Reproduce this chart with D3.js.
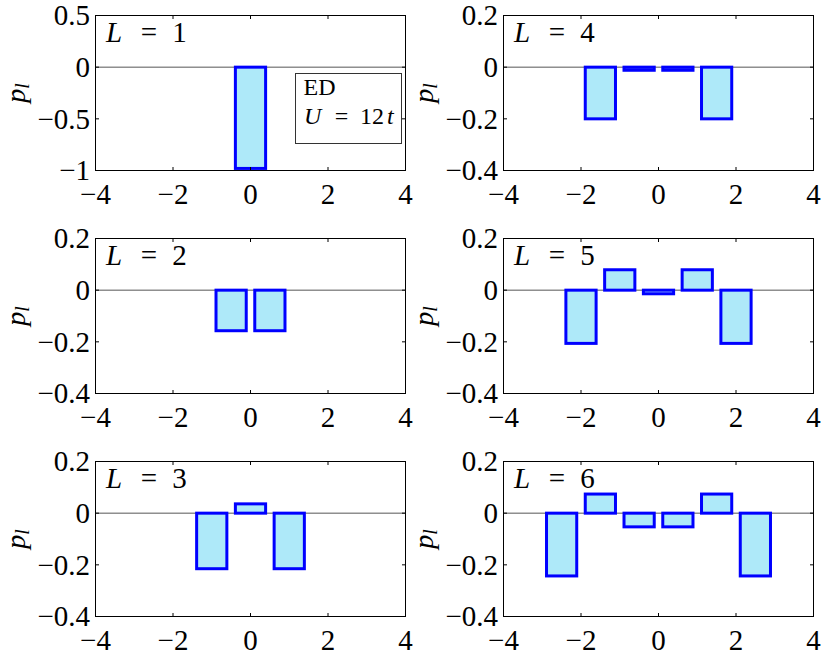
<!DOCTYPE html>
<html><head><meta charset="utf-8">
<script src="https://cdn.jsdelivr.net/npm/d3@7"></script>
<style>body{margin:0;background:#fff} svg{display:block} text{font-family:"Liberation Serif","DejaVu Serif","Times New Roman",serif;}</style>
</head><body>
<svg id="c" width="830" height="662"></svg>
<script>
// ---- data ----
const xTicks = [-4, -2, 0, 2, 4];
const xTickLabels = ["−4", "−2", "0", "2", "4"];
const yTicksFirst = [0.5, 0, -0.5, -1];
const yTickLabelsFirst = ["0.5", "0", "−0.5", "−1"];
const yTicksOther = [0.2, 0, -0.2, -0.4];
const yTickLabelsOther = ["0.2", "0", "−0.2", "−0.4"];
const chainLengths = [1, 2, 3, 4, 5, 6];
const positionsL1 = [0];
const valuesL1 = [-0.98];
const positionsL2 = [-0.5, 0.5];
const valuesL2 = [-0.157, -0.157];
const positionsL3 = [-1, 0, 1];
const valuesL3 = [-0.215, 0.036, -0.215];
const positionsL4 = [-1.5, -0.5, 0.5, 1.5];
const valuesL4 = [-0.2, -0.012, -0.012, -0.2];
const positionsL5 = [-2, -1, 0, 1, 2];
const valuesL5 = [-0.206, 0.079, -0.014, 0.079, -0.206];
const positionsL6 = [-2.5, -1.5, -0.5, 0.5, 1.5, 2.5];
const valuesL6 = [-0.243, 0.074, -0.053, -0.053, 0.074, -0.243];
const legendLine1 = "ED";
const legendLine2 = ["U", "=", "12", "t"];
const yLabel = ["p", "l"];

// ---- layout ----
const svg = d3.select("#c");
const colX = [95.5, 503.5];
const rowY = [15.5, 238.5, 461.5];
const W = 310, H = 155;
const barWidth = 0.78;

const panels = [
  {L: chainLengths[0], pos: positionsL1, val: valuesL1, col: 0, row: 0, yDom: [-1, 0.5], yt: yTicksFirst, ytl: yTickLabelsFirst, legend: true},
  {L: chainLengths[1], pos: positionsL2, val: valuesL2, col: 0, row: 1, yDom: [-0.4, 0.2], yt: yTicksOther, ytl: yTickLabelsOther},
  {L: chainLengths[2], pos: positionsL3, val: valuesL3, col: 0, row: 2, yDom: [-0.4, 0.2], yt: yTicksOther, ytl: yTickLabelsOther},
  {L: chainLengths[3], pos: positionsL4, val: valuesL4, col: 1, row: 0, yDom: [-0.4, 0.2], yt: yTicksOther, ytl: yTickLabelsOther},
  {L: chainLengths[4], pos: positionsL5, val: valuesL5, col: 1, row: 1, yDom: [-0.4, 0.2], yt: yTicksOther, ytl: yTickLabelsOther},
  {L: chainLengths[5], pos: positionsL6, val: valuesL6, col: 1, row: 2, yDom: [-0.4, 0.2], yt: yTicksOther, ytl: yTickLabelsOther},
];

panels.forEach(p => {
  const x0 = colX[p.col], y0 = rowY[p.row];
  const g = svg.append("g").attr("transform", `translate(${x0},${y0})`);
  const xs = d3.scaleLinear().domain([-4, 4]).range([0, W]);
  const ys = d3.scaleLinear().domain(p.yDom).range([H, 0]);

  // zero line
  g.append("line").attr("x1", 0).attr("x2", W)
    .attr("y1", ys(0)).attr("y2", ys(0))
    .attr("stroke", "#555").attr("stroke-width", 1);

  // bars
  const data = p.pos.map((d, i) => ({x: d, v: p.val[i]}));
  g.selectAll("rect.bar").data(data).enter().append("rect")
    .attr("class", "bar")
    .attr("x", d => xs(d.x - barWidth / 2))
    .attr("width", d => xs(d.x + barWidth / 2) - xs(d.x - barWidth / 2))
    .attr("y", d => ys(Math.max(0, d.v)))
    .attr("height", d => Math.abs(ys(d.v) - ys(0)))
    .attr("fill", "#aee9f9")
    .attr("stroke", "#0000ff")
    .attr("stroke-width", 3);

  // box
  g.append("rect").attr("x", 0).attr("y", 0).attr("width", W).attr("height", H)
    .attr("fill", "none").attr("stroke", "#000").attr("stroke-width", 1);

  // ticks (inside, all sides)
  const tl = 3.5;
  xTicks.forEach(t => {
    g.append("line").attr("x1", xs(t)).attr("x2", xs(t)).attr("y1", H).attr("y2", H - tl).attr("stroke", "#000");
    g.append("line").attr("x1", xs(t)).attr("x2", xs(t)).attr("y1", 0).attr("y2", tl).attr("stroke", "#000");
  });
  p.yt.forEach(t => {
    g.append("line").attr("x1", 0).attr("x2", tl).attr("y1", ys(t)).attr("y2", ys(t)).attr("stroke", "#000");
    g.append("line").attr("x1", W).attr("x2", W - tl).attr("y1", ys(t)).attr("y2", ys(t)).attr("stroke", "#000");
  });

  // tick labels
  g.selectAll("text.xt").data(xTicks).enter().append("text")
    .attr("class", "xt")
    .attr("x", d => xs(d)).attr("y", H + 33)
    .attr("text-anchor", "middle")
    .attr("font-size", 29)
    .text((d, i) => xTickLabels[i]);
  g.selectAll("text.yt").data(p.yt).enter().append("text")
    .attr("class", "yt")
    .attr("x", -5.5).attr("y", d => ys(d) + 9.8)
    .attr("text-anchor", "end")
    .attr("font-size", 29)
    .text((d, i) => p.ytl[i]);

  // y label p_l
  const yl = g.append("text")
    .attr("transform", `translate(${-70.5},${H / 2}) rotate(-90)`)
    .attr("text-anchor", "middle")
    .attr("font-size", 28).attr("font-style", "italic");
  yl.append("tspan").text(yLabel[0]);
  yl.append("tspan").attr("font-size", 20).attr("dy", 4).text(yLabel[1]);

  // L = n label
  const lt = g.append("g").attr("font-size", 29);
  lt.append("text").attr("x", 10.5).attr("y", 26).attr("font-style", "italic").text("L");
  lt.append("text").attr("x", 53.5).attr("y", 26).attr("text-anchor", "middle").text("=");
  lt.append("text").attr("x", 84).attr("y", 26).attr("text-anchor", "middle").text(p.L);

  // legend
  if (p.legend) {
    const lg = g.append("g").attr("font-size", 24);
    lg.append("rect").attr("x", 200).attr("y", 58).attr("width", 106).attr("height", 70)
      .attr("fill", "#fff").attr("stroke", "#333").attr("stroke-width", 1);
    lg.append("text").attr("x", 208).attr("y", 79.5).text(legendLine1);
    lg.append("text").attr("x", 208.5).attr("y", 108.5).attr("font-style", "italic").text(legendLine2[0]);
    lg.append("text").attr("x", 246).attr("y", 108.5).attr("text-anchor", "middle").text(legendLine2[1]);
    const t2 = lg.append("text").attr("x", 264.5).attr("y", 108.5);
    t2.append("tspan").text(legendLine2[2]);
    t2.append("tspan").attr("font-style", "italic").attr("dx", 3).text(legendLine2[3]);
  }
});
</script>
</body></html>
